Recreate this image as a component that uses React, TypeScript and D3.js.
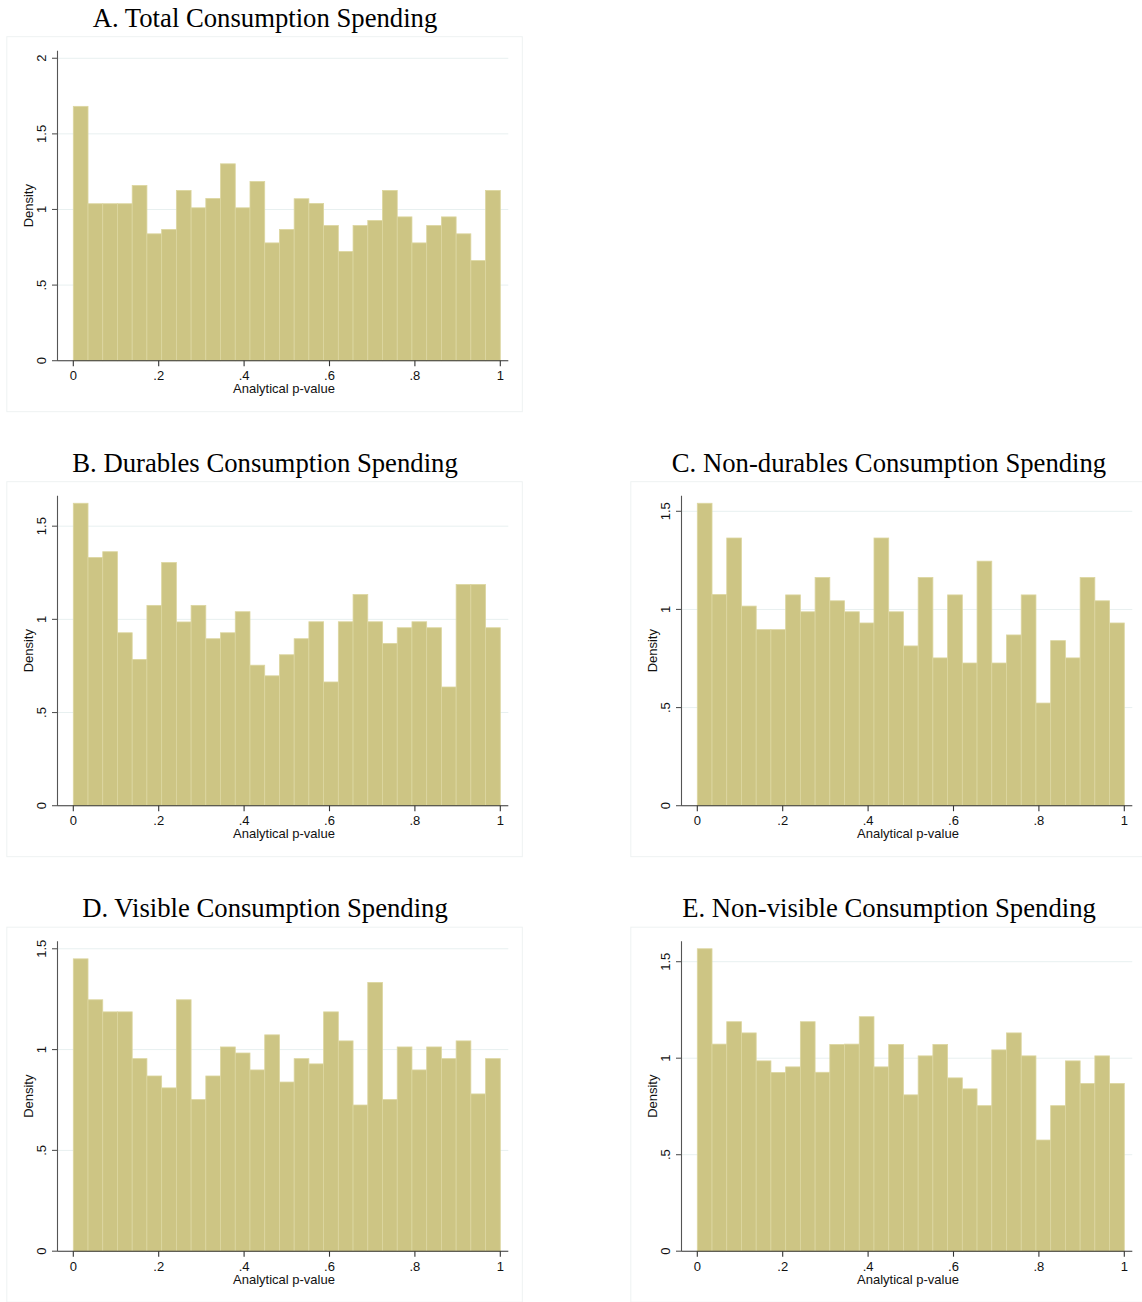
import React from "react";
import * as d3 from "d3";

// Histogram densities (29 equal-width bins over [0, 1]) of analytical p-values
const totalDensity = [
  1.682, 1.038, 1.038, 1.038, 1.159, 0.839, 0.868, 1.126, 1.011, 1.073,
  1.302, 1.011, 1.185, 0.779, 0.868, 1.071, 1.04, 0.894, 0.722, 0.894,
  0.927, 1.126, 0.951, 0.779, 0.894, 0.951, 0.839, 0.662, 1.126,
];
const durablesDensity = [
  1.623, 1.332, 1.363, 0.928, 0.785, 1.075, 1.305, 0.986, 1.075, 0.896,
  0.928, 1.041, 0.754, 0.697, 0.81, 0.896, 0.987, 0.664, 0.987, 1.133,
  0.987, 0.871, 0.955, 0.987, 0.955, 0.637, 1.187, 1.187, 0.955,
];
const nondurablesDensity = [
  1.541, 1.076, 1.364, 1.017, 0.897, 0.897, 1.074, 0.988, 1.163, 1.044,
  0.988, 0.931, 1.364, 0.988, 0.814, 1.163, 0.753, 1.074, 0.727, 1.246,
  0.727, 0.87, 1.074, 0.523, 0.841, 0.753, 1.163, 1.044, 0.931,
];
const visibleDensity = [
  1.45, 1.247, 1.187, 1.187, 0.955, 0.869, 0.81, 1.247, 0.752, 0.869,
  1.013, 0.983, 0.899, 1.073, 0.839, 0.955, 0.929, 1.187, 1.043, 0.725,
  1.333, 0.752, 1.013, 0.899, 1.013, 0.955, 1.043, 0.78, 0.955,
];
const nonvisibleDensity = [
  1.567, 1.073, 1.189, 1.131, 0.986, 0.926, 0.955, 1.189, 0.927, 1.071,
  1.073, 1.215, 0.955, 1.071, 0.81, 1.012, 1.071, 0.898, 0.841, 0.754,
  1.043, 1.131, 1.012, 0.576, 0.754, 0.986, 0.869, 1.012, 0.869,
];

const panelTitles = [
  "A. Total Consumption Spending",
  "B. Durables Consumption Spending",
  "C. Non-durables Consumption Spending",
  "D. Visible Consumption Spending",
  "E. Non-visible Consumption Spending",
];

const yTicksWide = [0, 0.5, 1, 1.5, 2];
const yTicksStd = [0, 0.5, 1, 1.5];
const xTicks = [0, 0.2, 0.4, 0.6, 0.8, 1];

const xAxisTitle = "Analytical p-value";
const yAxisTitle = "Density";

const fmtTick = (v: number) => {
  if (v === 0) return "0";
  const s = String(v);
  return s.startsWith("0.") ? s.slice(1) : s;
};

// Cell layout: [column, row]
const panelDefs = [
  { title: panelTitles[0], data: totalDensity, yTicks: yTicksWide, col: 0, row: 0 },
  { title: panelTitles[1], data: durablesDensity, yTicks: yTicksStd, col: 0, row: 1 },
  { title: panelTitles[2], data: nondurablesDensity, yTicks: yTicksStd, col: 1, row: 1 },
  { title: panelTitles[3], data: visibleDensity, yTicks: yTicksStd, col: 0, row: 2 },
  { title: panelTitles[4], data: nonvisibleDensity, yTicks: yTicksStd, col: 1, row: 2 },
];

const colOffset = [0, 624];
const rowOffset = [0, 445, 890.5];

const BAR_FILL = "#cdc584";
const BAR_EDGE = "#dcd6a0";
const GRID = "#e8f0f0";
const SANS = "'Liberation Sans', Arial, sans-serif";
const SERIF = "'Liberation Serif', 'Times New Roman', serif";
const LABEL_SIZE = 13;

function Panel({ def }: { def: (typeof panelDefs)[number] }) {
  const ox = colOffset[def.col];
  const oy = rowOffset[def.row];

  const axisX = 57.5;
  const axisEnd = 508.3;
  const plotTop = 50.7;
  const plotBottom = 360.7;

  const top = Math.max(d3.max(def.data) as number, d3.max(def.yTicks) as number) * 1.025;
  const y = d3.scaleLinear().domain([0, top]).range([plotBottom, plotTop]);
  const x = d3.scaleLinear().domain([0, 1]).range([73.3, 500.3]);

  const n = def.data.length;
  const bins = def.data.map((d, i) => ({ x0: i / n, x1: (i + 1) / n, d }));

  return (
    <g transform={`translate(${ox},${oy})`}>
      <rect x={6.8} y={36.7} width={515.5} height={375} fill="#fff" stroke="#eef2f2" strokeWidth={1} />
      <text x={265} y={26.5} textAnchor="middle" fontFamily={SERIF} fontSize={26.7} fill="#000">
        {def.title}
      </text>

      {/* horizontal grid lines */}
      {def.yTicks
        .filter((t) => t !== 0)
        .map((t) => (
          <line key={`g${t}`} x1={axisX} x2={axisEnd} y1={y(t)} y2={y(t)} stroke={GRID} strokeWidth={1} />
        ))}

      {/* bars */}
      {bins.map((b, i) => (
        <rect
          key={i}
          x={x(b.x0)}
          y={y(b.d)}
          width={x(b.x1) - x(b.x0)}
          height={y(0) - y(b.d)}
          fill={BAR_FILL}
          stroke={BAR_EDGE}
          strokeWidth={0.8}
        />
      ))}

      {/* y axis */}
      <line x1={axisX} x2={axisX} y1={plotTop} y2={plotBottom} stroke="#555" strokeWidth={1.1} />
      {def.yTicks.map((t) => (
        <g key={`y${t}`}>
          <line x1={axisX - 5.5} x2={axisX} y1={y(t)} y2={y(t)} stroke="#555" strokeWidth={1.1} />
          <text
            transform={`translate(${41.7},${y(t)}) rotate(-90)`}
            textAnchor="middle"
            dy="0.35em"
            fontFamily={SANS}
            fontSize={LABEL_SIZE}
            fill="#111"
          >
            {fmtTick(t)}
          </text>
        </g>
      ))}
      <text
        transform={`translate(${28.5},${(plotTop + plotBottom) / 2}) rotate(-90)`}
        textAnchor="middle"
        dy="0.35em"
        fontFamily={SANS}
        fontSize={LABEL_SIZE}
        fill="#111"
      >
        {yAxisTitle}
      </text>

      {/* x axis */}
      <line x1={axisX} x2={axisEnd} y1={plotBottom} y2={plotBottom} stroke="#333" strokeWidth={1.1} />
      {xTicks.map((t) => (
        <g key={`x${t}`}>
          <line x1={x(t)} x2={x(t)} y1={plotBottom} y2={plotBottom + 5.5} stroke="#333" strokeWidth={1.1} />
          <text x={x(t)} y={380.3} textAnchor="middle" fontFamily={SANS} fontSize={LABEL_SIZE} fill="#111">
            {fmtTick(t)}
          </text>
        </g>
      ))}
      <text
        x={284}
        y={393}
        textAnchor="middle"
        fontFamily={SANS}
        fontSize={LABEL_SIZE}
        fill="#111"
      >
        {xAxisTitle}
      </text>
    </g>
  );
}

export default function App() {
  return (
    <svg
      width={1142}
      height={1302}
      viewBox="0 0 1142 1302"
      style={{ position: "absolute", left: 0, top: 0, background: "#fff" }}
    >
      <rect x={0} y={0} width={1142} height={1302} fill="#fff" />
      {panelDefs.map((p) => (
        <Panel key={p.title} def={p} />
      ))}
    </svg>
  );
}
